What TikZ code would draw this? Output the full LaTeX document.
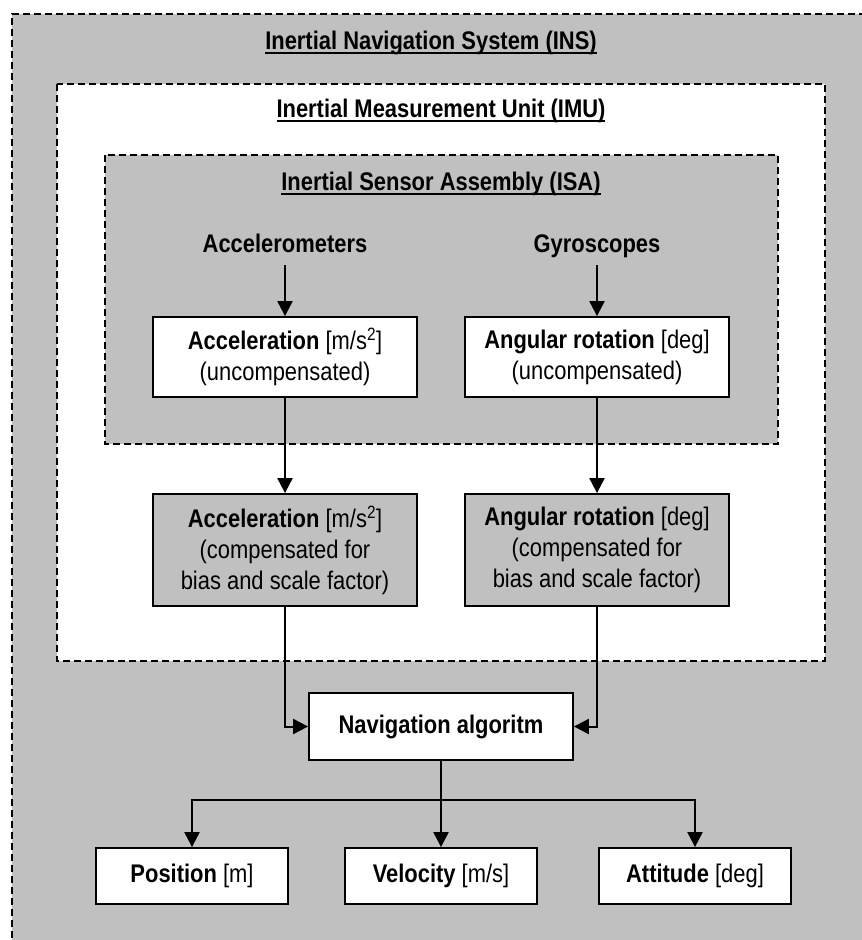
\documentclass[tikz,border=0pt]{standalone}
\usepackage{fontspec}
\setmainfont{Liberation Sans}[FakeStretch=0.86]
\usetikzlibrary{arrows.meta}
\definecolor{panelgray}{RGB}{192,192,192}
\newcommand\myul[1]{\setbox0\hbox{#1}\rlap{\rule[-4.5pt]{\wd0}{2pt}}\box0}
\tikzset{
  txt/.style={font=\fontsize{25.5}{31}\selectfont, align=center, inner sep=0pt},
  boxw/.style={txt, draw=black, line width=1.8pt, fill=white},
  boxg/.style={txt, draw=black, line width=1.8pt, fill=panelgray},
  dashframe/.style={draw=black, line width=1.5pt, dash pattern=on 7pt off 4pt},
  arr/.style={draw=black, line width=2pt, -{Triangle[length=15pt,width=15pt]}},
  sensor/.style={txt, text height=19pt, text depth=7pt, inner ysep=6pt},
}
\begin{document}
\begin{tikzpicture}[x=1pt,y=-1pt]
\useasboundingbox (0,0) rectangle (862,940);
% outer INS frame
\fill[panelgray] (12,14) rectangle (880,960);
\draw[dashframe] (12,960) -- (12,14) -- (880,14);
% IMU frame
\fill[white] (57,84) rectangle (825,661);
\draw[dashframe] (57,84) rectangle (825,661);
% ISA frame
\fill[panelgray] (105,155) rectangle (778,444);
\draw[dashframe] (105,155) rectangle (778,444);
% titles
\node[txt] (tins) at (431,43) {\myul{\textbf{Inertial Navigation System (INS)}}};
\node[txt] (timu) at (441,111) {\myul{\textbf{Inertial Measurement Unit (IMU)}}};
\node[txt] (tisa) at (441,184) {\myul{\textbf{Inertial Sensor Assembly (ISA)}}};
% sensors
\node[sensor] (accl) at (285,246) {\textbf{Accelerometers}};
\node[sensor] (gyro) at (597,246) {\textbf{Gyroscopes}};
% uncompensated
\node[boxw, minimum width=264, minimum height=80] (acc1) at (285,357)
  {\textbf{Acceleration} [m/s\textsuperscript{2}]\\(uncompensated)};
\node[boxw, minimum width=264, minimum height=80] (gyr1) at (597,357)
  {\textbf{Angular rotation} [deg]\\(uncompensated)};
% compensated
\node[boxg, minimum width=264, minimum height=112] (acc2) at (285,550)
  {\textbf{Acceleration} [m/s\textsuperscript{2}]\\(compensated for\\bias and scale factor)};
\node[boxg, minimum width=264, minimum height=112] (gyr2) at (597,550)
  {\textbf{Angular rotation} [deg]\\(compensated for\\bias and scale factor)};
% navigation
\node[boxw, minimum width=264, minimum height=67] (nav) at (441,726.5)
  {\textbf{Navigation algoritm}};
% outputs
\node[boxw, minimum width=192, minimum height=56] (pos) at (192,876)
  {\textbf{Position} [m]};
\node[boxw, minimum width=192, minimum height=56] (vel) at (441,876)
  {\textbf{Velocity} [m/s]};
\node[boxw, minimum width=192, minimum height=56] (att) at (695,876)
  {\textbf{Attitude} [deg]};
% connectors
\draw[arr] (accl) -- (acc1);
\draw[arr] (gyro) -- (gyr1);
\draw[arr] (acc1) -- (acc2);
\draw[arr] (gyr1) -- (gyr2);
\draw[arr] (acc2.south) |- (nav.west);
\draw[arr] (gyr2.south) |- (nav.east);
\coordinate (split) at (441,800);
\draw[arr] (nav) -- (vel);
\draw[arr] (split) -| (pos.north);
\draw[arr] (split) -| (att.north);
\end{tikzpicture}
\end{document}
